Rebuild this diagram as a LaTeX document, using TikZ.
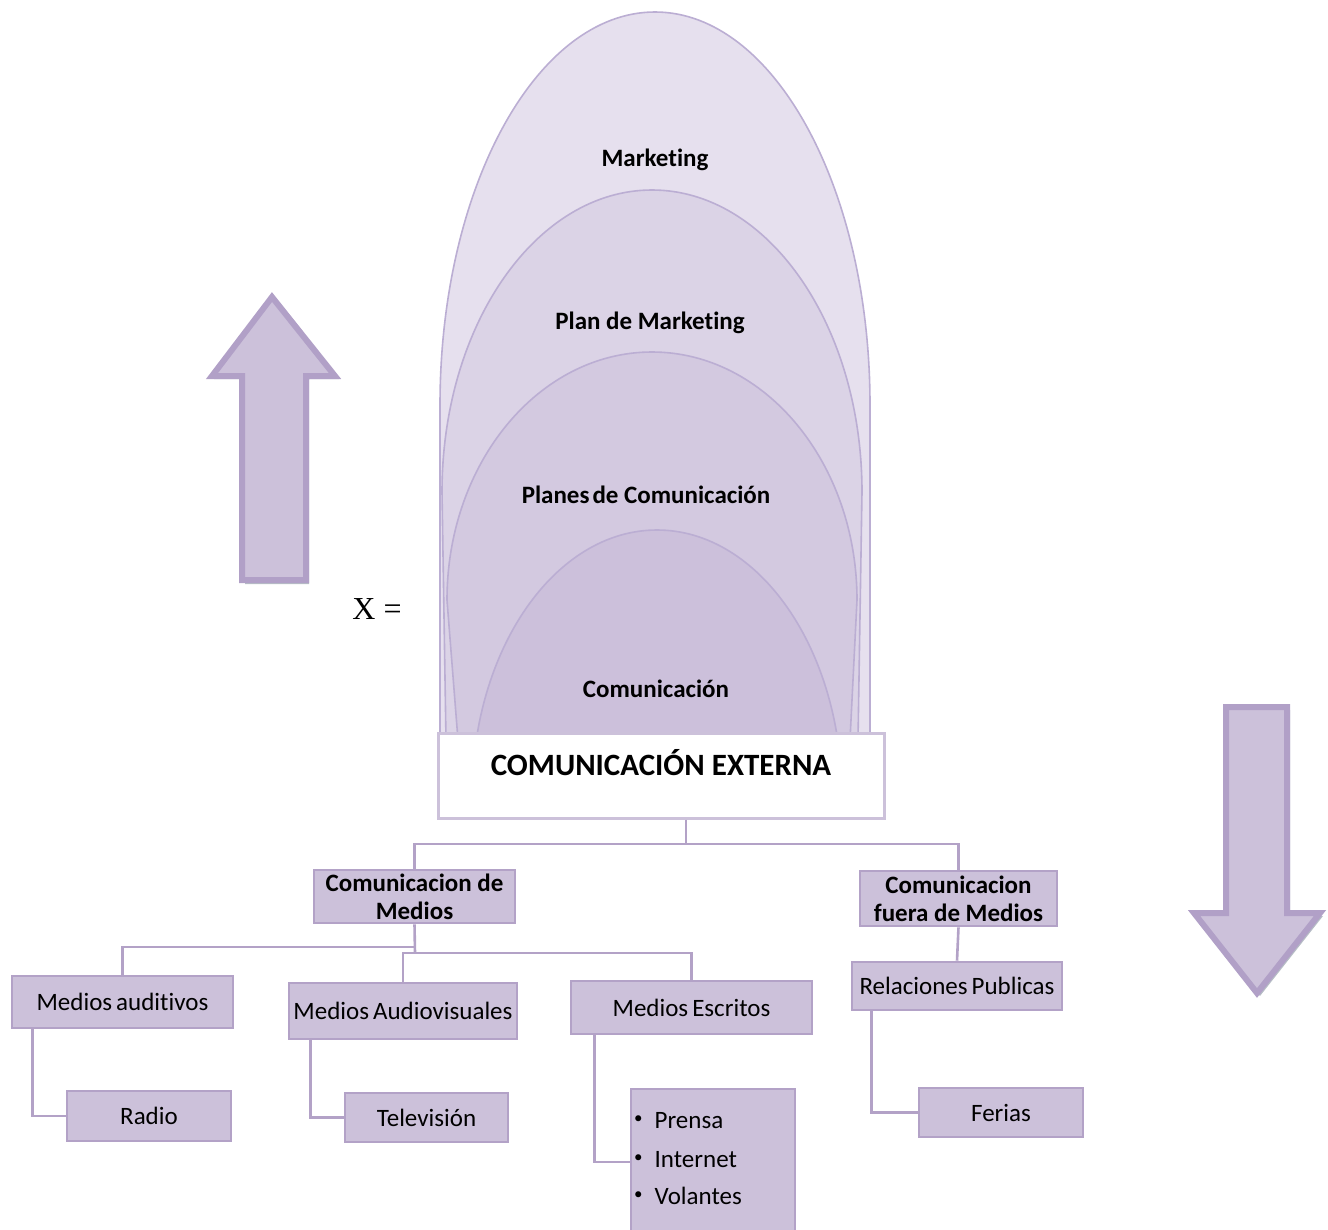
\documentclass[tikz,border=0pt]{standalone}
\usepackage{fontspec}
\setmainfont{Carlito}[Ligatures=NoCommon]
\newfontfamily\timesfam{Liberation Serif}
\definecolor{lilacfill}{HTML}{CCC1DA}
\definecolor{lilacline}{HTML}{B3A2C7}
\definecolor{arrowline}{HTML}{B1A0C7}
\definecolor{egga}{HTML}{E6E0EE}
\definecolor{eggb}{HTML}{DBD3E6}
\definecolor{eggc}{HTML}{D3C9E0}
\definecolor{eggd}{HTML}{CCC0DB}
\definecolor{eggline}{HTML}{BBAED3}
\definecolor{shadowgray}{HTML}{97A1AD}
\begin{document}
\begin{tikzpicture}[x=1pt,y=-1pt,
  egg/.style={draw=eggline,line width=1.6},
  layerlbl/.style={font=\bfseries\fontsize{25}{30}\selectfont},
  box/.style={draw=lilacline,fill=lilacfill,line width=2.6,inner sep=0pt,align=center,font=\fontsize{25}{28}\selectfont},
  boldbox/.style={box,font=\bfseries\fontsize{25}{28}\selectfont},
  conn/.style={draw=lilacline,line width=2.6},
  bigarrow/.style={draw=arrowline,fill=lilacfill,line width=6,line join=miter},
  arrowshadow/.style={fill=shadowgray,opacity=0.7}
]
\useasboundingbox (0,0) rectangle (1328,1229);

% nested layers, outer to inner
\fill[egga] (440,740) -- (440,405) arc[start angle=180,end angle=360,x radius=215,y radius=393] -- (870,740) -- cycle;
\draw[egg] (440,740) -- (440,405) arc[start angle=180,end angle=360,x radius=215,y radius=393] -- (870,740);
\fill[eggb] (446,740) -- (442,492) arc[start angle=180,end angle=360,x radius=210,y radius=302] -- (858,740) -- cycle;
\draw[egg] (446,740) -- (442,492) arc[start angle=180,end angle=360,x radius=210,y radius=302] -- (858,740);
\fill[eggc] (458,740) -- (447,600) arc[start angle=180,end angle=360,x radius=205,y radius=248] -- (850,740) -- cycle;
\draw[egg] (458,740) -- (447,600) arc[start angle=180,end angle=360,x radius=205,y radius=248] -- (850,740);
\begin{scope}
  \clip (400,500) rectangle (900,740);
  \fill[eggd] (657,797) ellipse[x radius=185,y radius=267];
  \draw[egg] (657,797) ellipse[x radius=185,y radius=267];
\end{scope}

\node[layerlbl] (mkt) at (655,160) {Marketing};
\node[layerlbl] (pmkt) at (650,323) {Plan de Marketing};
\node[layerlbl] (pcom) at (646,495) {Planes\hspace{3pt}de Comunicación};
\node[layerlbl] (com) at (656,689) {Comunicación};

\node[draw=lilacfill,fill=white,line width=3,minimum width=446,minimum height=85,inner sep=0pt] (ext) at (661,775.5) {};
\node[font=\bfseries\fontsize{31}{36}\selectfont] (extlbl) at (661,763) {COMUNICACIÓN EXTERNA};

\node[font=\timesfam\fontsize{32}{36}\selectfont] (xeq) at (377,609) {X =};

% up and down arrows
\fill[arrowshadow] (275,300) -- (339,379) -- (309,379) -- (309,584) -- (245,584) -- (245,379) -- (214,379) -- cycle;
\draw[bigarrow] (272,297) -- (335,376) -- (306,376) -- (306,580) -- (242,580) -- (242,376) -- (212,376) -- cycle;
\fill[arrowshadow] (1229,710) -- (1290,710) -- (1290,916) -- (1323,916) -- (1260,996) -- (1197,916) -- (1229,916) -- cycle;
\draw[bigarrow] (1226,707) -- (1287,707) -- (1287,913) -- (1320,913) -- (1257,993) -- (1194,913) -- (1226,913) -- cycle;

% organisation chart
\node[boldbox,minimum width=201,minimum height=53] (cdm) at (414.5,896.5) {Comunicacion de\\Medios};
\node[boldbox,minimum width=197,minimum height=55] (cfm) at (958.5,898.5) {Comunicacion\\fuera de Medios};
\node[box,minimum width=221,minimum height=52] (aud) at (122.5,1002) {Medios\hspace{4pt}auditivos};
\node[box,minimum width=228,minimum height=56] (av) at (403,1011) {Medios\hspace{4pt}Audiovisuales};
\node[box,minimum width=241,minimum height=53] (esc) at (691.5,1007.5) {Medios\hspace{4pt}Escritos};
\node[box,minimum width=210,minimum height=48] (rp) at (957,986) {Relaciones\hspace{4pt}Publicas};
\node[box,minimum width=164,minimum height=50] (radio) at (149,1116) {Radio};
\node[box,minimum width=163,minimum height=49] (tv) at (426.5,1117.5) {Televisión};
\node[box,minimum width=164,minimum height=146] (lista) at (713,1162) {};
\node[box,minimum width=164,minimum height=49] (ferias) at (1001,1112.5) {Ferias};

\node[font=\fontsize{25}{28}\selectfont,anchor=north west,align=left,inner sep=0pt] (items) at (634,1112)
  {\raisebox{5pt}{\fontsize{17}{17}\selectfont\textbullet}\hspace{12pt}Prensa\\[11pt]\raisebox{5pt}{\fontsize{17}{17}\selectfont\textbullet}\hspace{12pt}Internet\\[9pt]\raisebox{5pt}{\fontsize{17}{17}\selectfont\textbullet}\hspace{12pt}Volantes};

\coordinate (j1) at (686,844);
\coordinate (m1) at (415,947);
\coordinate (m2) at (415,953);
\draw[conn] (ext.south -| j1) -- (j1);
\draw[conn] (cdm.north) |- (j1) -| (cfm.north);
\draw[conn] (cdm.south) -- (m2);
\draw[conn] (m1) -| (aud.north);
\draw[conn] (av.north) -- (av.north |- m2) -- (esc.north |- m2) -- (esc.north);
\draw[conn] (cfm.south) -- (rp.north);
\draw[conn] ([xshift=22]aud.south west) |- (radio.west);
\draw[conn] ([xshift=23]av.south west) |- (tv.west);
\draw[conn] ([xshift=25]esc.south west) |- (lista.west);
\draw[conn] ([xshift=21]rp.south west) |- (ferias.west);
\end{tikzpicture}
\end{document}
